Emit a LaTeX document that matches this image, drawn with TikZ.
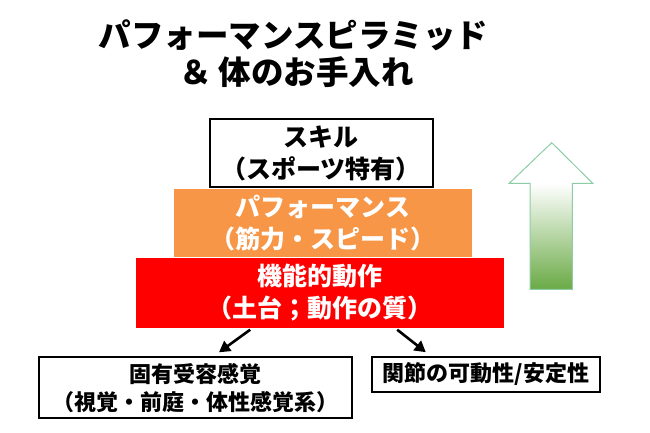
\documentclass[tikz,border=0pt]{standalone}
\usepackage{fontspec}
\setmainfont{Noto Sans CJK JP}
\usetikzlibrary{arrows.meta}
\definecolor{pyorange}{RGB}{247,150,70}
\definecolor{pyred}{RGB}{255,0,0}
\definecolor{arrgreen}{RGB}{106,170,70}
\definecolor{arredge}{RGB}{140,205,165}
\begin{document}
\begin{tikzpicture}[x=1pt,y=-1pt,
  titlefont/.style={font=\bfseries\fontsize{32.5}{37}\selectfont, inner sep=0pt},
  lvl/.style={inner sep=0pt, align=center, font=\bfseries\fontsize{25}{31.6}\selectfont},
  outbox/.style={draw=black, line width=2pt, fill=white, inner sep=0pt, align=center},
  arr/.style={line width=2.6pt, -{Triangle[length=11pt,width=12pt]}}]
\useasboundingbox (0,0) rectangle (650,433);
% title
\node[titlefont] (t1) at (293.5,35) {パフォーマンスピラミッド};
\node[titlefont] (t2) at (296.5,72) {＆ 体のお手入れ};
% pyramid
\node[lvl, draw=black, line width=2pt, fill=white, minimum width=223pt, minimum height=68pt] (skill) at (321,153.4) {スキル\\（スポーツ特有）};
\node[lvl, fill=pyorange, text=white, minimum width=297.4pt, minimum height=68.8pt] (perf) at (323,222.9) {パフォーマンス\\（筋力・スピード）};
\node[lvl, fill=pyred, text=white, minimum width=368.3pt, minimum height=70pt] (func) at (320.2,292.5) {機能的動作\\（土台；動作の質）};
% bottom boxes
\node[outbox, font=\bfseries\fontsize{22}{28.4}\selectfont, minimum width=313pt, minimum height=61pt] (prop) at (195.5,387.8) {固有受容感覚\\（視覚・前庭・体性感覚系）};
\node[outbox, font=\bfseries\fontsize{22}{26}\selectfont, minimum width=228.3pt, minimum height=35pt] (joint) at (485.8,374.2) {関節の可動性/安定性};
% arrows
\draw[arr] ([xshift=-70pt,yshift=-2pt]func.south) -- ([xshift=23.5pt,yshift=4pt]prop.north);
\draw[arr] ([xshift=77pt,yshift=-2pt]func.south) -- ([xshift=-60pt,yshift=3.5pt]joint.north);
% green arrow
\fill[white] (551.7,142.7) -- (592.7,183.3) -- (572.3,183.3) -- (572.3,289.3) -- (530,289.3) -- (530,183.3) -- (509.3,183.3) -- cycle;
\shade[top color=white, bottom color=arrgreen] (530,183.3) rectangle (572.3,289.3);
\draw[arredge, line width=1pt, line join=miter] (551.7,142.7) -- (592.7,183.3) -- (572.3,183.3) -- (572.3,289.3) -- (530,289.3) -- (530,183.3) -- (509.3,183.3) -- cycle;
\end{tikzpicture}
\end{document}
